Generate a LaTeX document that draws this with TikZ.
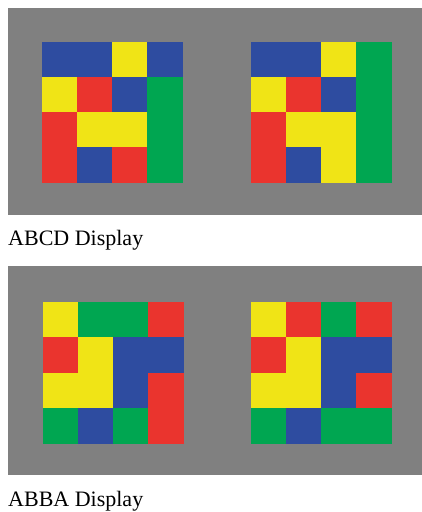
\documentclass[tikz,border=0pt]{standalone}
\usepackage{fontspec}
\setmainfont{Liberation Serif}
\usetikzlibrary{positioning}
\definecolor{panelgray}{RGB}{128, 128, 128}
\definecolor{tileb}    {RGB}{ 46,  76, 160}
\definecolor{tiley}    {RGB}{240, 228,  22}
\definecolor{tiler}    {RGB}{234,  52,  46}
\definecolor{tileg}    {RGB}{  0, 166,  81}
\tikzset{
	panel/.style={
		rectangle, anchor=north west, inner sep=0pt,
		minimum width=414pt, fill=panelgray
	},
	tile/.style={
		rectangle, anchor=north west, inner sep=0pt,
		minimum size=35.15pt, line width=0.3pt
	},
	caption/.style={
		anchor=base west, inner sep=0pt,
		font=\fontsize{22}{26}\selectfont
	}
}
% one 4x4 board: name, left, top, colours row by row
\newcommand{\tileboard}[4]{%
	\foreach \c [count=\k from 0] in {#4} {
		\pgfmathtruncatemacro{\rw}{int(\k/4)}
		\pgfmathtruncatemacro{\cl}{mod(\k,4)}
		\node[tile, fill=tile\c, draw=tile\c] (#1-\k)
		at ({#2+35.15*\cl},{#3+35.15*\rw}) {};
	}%
}

\begin{document}
\begin{tikzpicture}[x=1pt, y=-1pt]
	\useasboundingbox (0,0) rectangle (422,512);
	
	%% ═══════════════════════════════
	%%  ABCD
	%% ═══════════════════════════════
	\node[panel, minimum height=207pt] (abcdpanel) at (8,8) {};
	\tileboard{abcdl}{41.7}{41.7}{b,b,y,b, y,r,b,g, r,y,y,g, r,b,r,g}
	\tileboard{abcdr}{250.7}{41.7}{b,b,y,g, y,r,b,g, r,y,y,g, r,b,y,g}
	\node[caption] (abcdtext) at (8,245) {ABCD Display};
	
	%% ═══════════════════════════════
	%%  ABBA
	%% ═══════════════════════════════
	\node[panel, minimum height=209pt] (abbapanel) at (8,266) {};
	\tileboard{abbal}{42.7}{302.3}{y,g,g,r, r,y,b,b, y,y,b,r, g,b,g,r}
	\tileboard{abbar}{250.7}{302.3}{y,r,g,r, r,y,b,b, y,y,b,r, g,b,g,g}
	\node[caption] (abbatext) at (8,506) {ABBA Display};
	
\end{tikzpicture}
\end{document}
